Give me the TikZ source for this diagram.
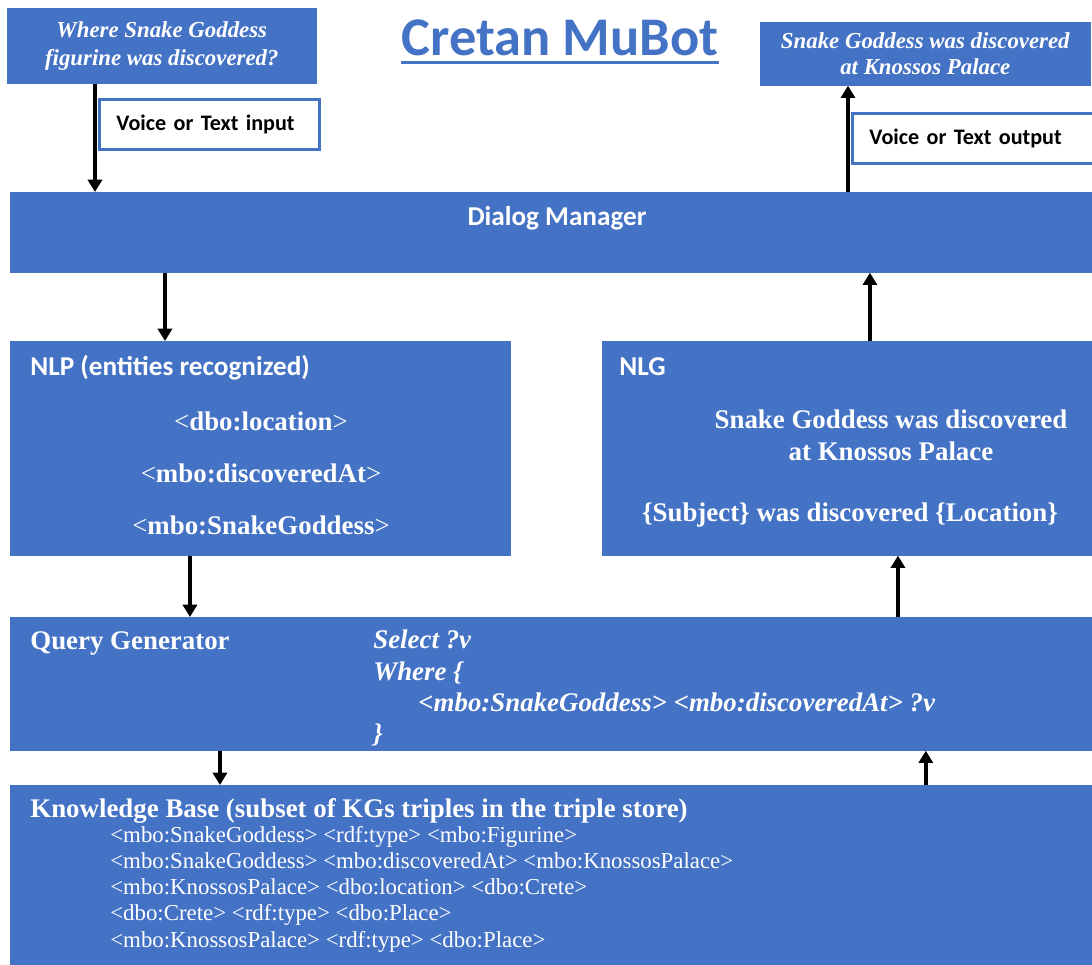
\documentclass[tikz,border=0pt]{standalone}
\usepackage{fontspec}
\setmainfont{Liberation Serif}
\newfontfamily\calibri{Carlito}
\usetikzlibrary{arrows,arrows.meta,positioning,calc}
\definecolor{boxblue}{HTML}{4472C4}

\begin{document}
\begin{tikzpicture}[x=0.02cm, y=-0.02cm]
  \tikzstyle{box}=[rectangle, draw=boxblue, fill=boxblue, anchor=north west, inner sep=0pt]
  \tikzstyle{iobox}=[rectangle, draw=boxblue, line width=1.7pt, fill=white, anchor=north west, align=left, inner xsep=0.34cm, inner ysep=0pt, font=\calibri\bfseries\fontsize{12.6pt}{15pt}\selectfont]
  \tikzstyle{hdr}=[text=white, inner sep=0pt, font=\calibri\bfseries\fontsize{15.5pt}{18pt}\selectfont]
  \tikzstyle{serif}=[text=white, inner sep=0pt, font=\bfseries\fontsize{15.3pt}{18pt}\selectfont]
  \tikzstyle{query}=[text=white, inner sep=0pt, anchor=base west, font=\bfseries\itshape\fontsize{15.3pt}{18pt}\selectfont]
  \tikzstyle{triple}=[text=white, inner sep=0pt, anchor=base west, font=\fontsize{13pt}{15pt}\selectfont]
  \tikzstyle{arr}=[-{Triangle[length=7pt,width=8pt]}, line width=2pt]

  \useasboundingbox (0,0) rectangle (1092,964);

  % Titel
  \node[text=boxblue, anchor=base, inner sep=0pt, font=\calibri\bfseries\fontsize{31pt}{37pt}\selectfont] (title) at (560,55) {Cretan MuBot};
  \draw[boxblue, line width=1.5pt] ([yshift=-0.15cm]title.base west) -- ([yshift=-0.15cm]title.base east);

  % Frage und Antwort
  \node[box, minimum width=6.18cm, minimum height=1.5cm, align=center, text=white, font=\bfseries\itshape\fontsize{13pt}{15.8pt}\selectfont] (quest) at (7,8) {Where Snake Goddess\\figurine was discovered?};
  \node[box, minimum width=6.6cm, minimum height=1.26cm, align=center, text=white, font=\bfseries\itshape\fontsize{13pt}{14.7pt}\selectfont] (answer) at (760,22) {Snake Goddess was discovered\\at Knossos Palace};
  \node[iobox, minimum height=1.0cm, text width=3.72cm] (vin) at (98,98) {Voice or Text input};
  \node[iobox, minimum height=1.0cm, text width=4.2cm] (vout) at (851,112) {Voice or Text output};

  % Dialog Manager
  \node[box, minimum width=21.64cm, minimum height=1.6cm] (dm) at (10,192) {};
  \node[hdr, anchor=base] (dmlabel) at (557,225) {Dialog Manager};

  % NLP
  \node[box, minimum width=10cm, minimum height=4.28cm] (nlp) at (10,341) {};
  \node[hdr, anchor=base west] (nlptitle) at (30,375) {NLP (entities recognized)};
  \node[serif, anchor=base] (nlp1) at (261,430) {{\mdseries <}dbo:location{\mdseries >}};
  \node[serif, anchor=base] (nlp2) at (261,482) {{\mdseries <}mbo:discoveredAt{\mdseries >}};
  \node[serif, anchor=base] (nlp3) at (261,534) {{\mdseries <}mbo:SnakeGoddess{\mdseries >}};

  % NLG
  \node[box, minimum width=9.8cm, minimum height=4.28cm] (nlg) at (602,341) {};
  \node[hdr, anchor=base west] (nlgtitle) at (619,375) {NLG};
  \node[serif, anchor=base] (nlg1) at (891,428) {Snake Goddess was discovered};
  \node[serif, anchor=base] (nlg2) at (891,460) {at Knossos Palace};
  \node[serif, anchor=base] (nlg3) at (850,521) {\{Subject\} was discovered \{Location\}};

  % Query Generator
  \node[box, minimum width=21.64cm, minimum height=2.66cm] (qg) at (10,617) {};
  \node[serif, anchor=base west] (qgtitle) at (30,649) {Query Generator};
  \node[query] (sel) at (373,648) {Select ?v};
  \node[query] (where) at (373,680) {Where \{};
  \node[query] (pattern) at (418,711) {<mbo:SnakeGoddess> <mbo:discoveredAt> ?v};
  \node[query] (close) at (373,742) {\}};

  % Knowledge Base
  \node[box, minimum width=21.64cm, minimum height=3.6cm] (kb) at (10,785) {};
  \node[serif, anchor=base west] (kbtitle) at (30,817) {Knowledge Base (subset of KGs triples in the triple store)};
  \node[triple] (kb1) at (110,842) {<mbo:SnakeGoddess> <rdf:type> <mbo:Figurine>};
  \node[triple] (kb2) at (110,868) {<mbo:SnakeGoddess> <mbo:discoveredAt> <mbo:KnossosPalace>};
  \node[triple] (kb3) at (110,894) {<mbo:KnossosPalace> <dbo:location> <dbo:Crete>};
  \node[triple] (kb4) at (110,920) {<dbo:Crete> <rdf:type> <dbo:Place>};
  \node[triple] (kb5) at (110,947) {<mbo:KnossosPalace> <rdf:type> <dbo:Place>};

  % Pfeile
  \draw[arr] ([xshift=1.76cm]quest.south west) -- ([xshift=1.76cm]quest.south west |- dm.north);
  \draw[arr] ([xshift=1.76cm]answer.south west |- dm.north) -- ([xshift=1.76cm]answer.south west);
  \draw[arr] ([xshift=3.1cm]nlp.north west |- dm.south) -- ([xshift=3.1cm]nlp.north west);
  \draw[arr] ([xshift=5.36cm]nlg.north west) -- ([xshift=5.36cm]nlg.north west |- dm.south);
  \draw[arr] ([xshift=3.6cm]nlp.south west) -- ([xshift=3.6cm]nlp.south west |- qg.north);
  \draw[arr] ([xshift=5.92cm]nlg.south west |- qg.north) -- ([xshift=5.92cm]nlg.south west);
  \draw[arr] ([xshift=4.2cm]qg.south west) -- ([xshift=4.2cm]qg.south west |- kb.north);
  \draw[arr] ([xshift=18.32cm]kb.north west) -- ([xshift=18.32cm]kb.north west |- qg.south);
\end{tikzpicture}
\end{document}
